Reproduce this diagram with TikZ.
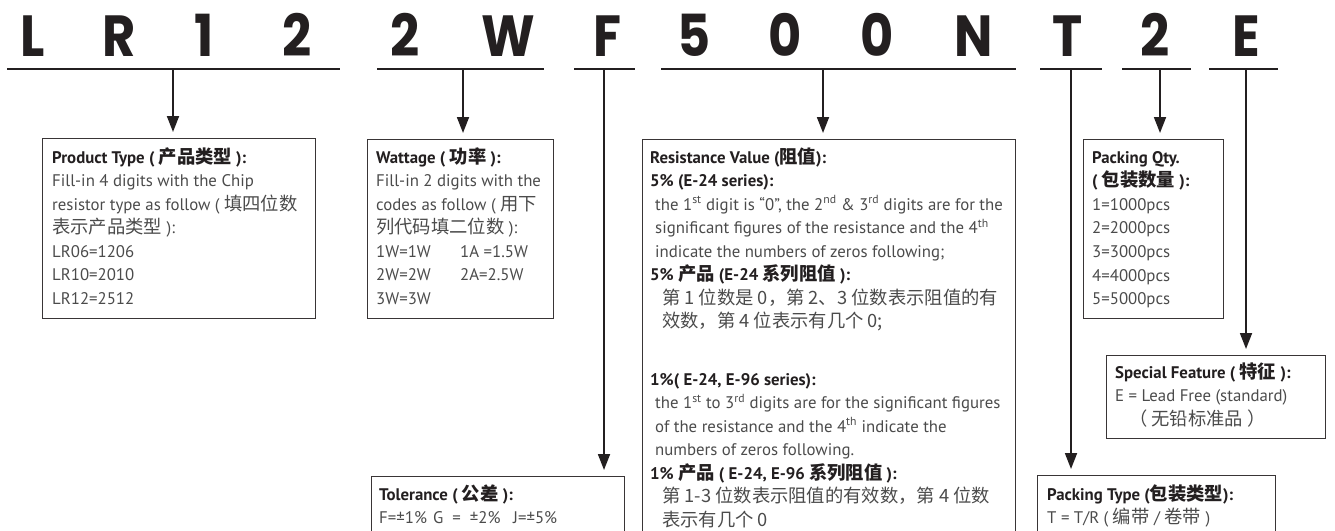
\documentclass[tikz,border=0pt]{standalone}
\usepackage{fontspec}
\setmainfont{PT Sans}
\newfontfamily\zhfont[Scale=1.09]{Noto Sans CJK SC}
\newfontfamily\bigfont[FakeStretch=0.88]{Poppins}
\usetikzlibrary{arrows.meta}
\definecolor{ink}{RGB}{35,31,32}
\definecolor{bodyc}{RGB}{75,75,75}
\newcommand\zh[1]{{\zhfont #1}}
\newcommand\hd[1]{{\bfseries\color{ink}#1}}
\newcommand\sups[1]{\textsuperscript{#1}}
\newcommand\boxlines[2]{\vtop{\baselineskip=#1\lineskiplimit=-100pt\lineskip=0pt\tabskip=0pt\halign{##\hfil\cr #2\crcr}}}
\tikzset{
  letter/.style={font=\bigfont\bfseries\fontsize{58}{58}\selectfont, text=ink, anchor=base, inner sep=0pt},
  uline/.style={draw=ink, line width=1.8pt},
  arr/.style={draw=ink, line width=1.8pt, -{Triangle[length=16pt,width=12pt]}, shorten >=6pt},
  infobox/.style={draw=ink!90, line width=1.2pt, anchor=north west, inner sep=0pt},
  txt/.style={font=\fontsize{16.8}{23.5}\selectfont, text=bodyc, anchor=base west, inner sep=0pt}
}
\begin{document}
\begin{tikzpicture}[x=1pt,y=-1pt]
\useasboundingbox (0,0) rectangle (1335,530);
\clip (0,0) rectangle (1335,530);
% big code letters
\node[letter] (l1) at (32.5,56) {L};
\node[letter] (l2) at (119,56) {R};
\node[letter] (l3) at (204,56) {1};
\node[letter] (l4) at (297,56) {2};
\node[letter] (l5) at (405,56) {2};
\node[letter] (l6) at (508,56) {W};
\node[letter] (l7) at (607,56) {F};
\node[letter] (l8) at (694,56) {5};
\node[letter] (l9) at (785,56) {0};
\node[letter] (l10) at (877,56) {0};
\node[letter] (l11) at (974,56) {N};
\node[letter] (l12) at (1068,56) {T};
\node[letter] (l13) at (1155,56) {2};
\node[letter] (l14) at (1246,56) {E};
% underline segments
\coordinate (u1a) at (7,69);    \coordinate (u1b) at (340,69);
\coordinate (u2a) at (377,69);  \coordinate (u2b) at (544,69);
\coordinate (u3a) at (574,69);  \coordinate (u3b) at (635,69);
\coordinate (u4a) at (661,69);  \coordinate (u4b) at (1016,69);
\coordinate (u5a) at (1040,69); \coordinate (u5b) at (1102,69);
\coordinate (u6a) at (1122,69); \coordinate (u6b) at (1191,69);
\coordinate (u7a) at (1209,69); \coordinate (u7b) at (1278,69);
\foreach \i in {1,...,7} {\draw[uline] (u\i a) -- (u\i b);}
% arrow start points
\coordinate (a1) at (173,69);
\coordinate (a2) at (463,69);
\coordinate (a3) at (604,69);
\coordinate (a4) at (823,69);
\coordinate (a5) at (1071,69);
\coordinate (a6) at (1160,69);
\coordinate (a7) at (1246,69);
% boxes
\node[infobox, minimum width=273pt, minimum height=180pt] (pbox) at (42,138) {};
\node[infobox, minimum width=186pt, minimum height=179pt] (wbox) at (367,139) {};
\node[infobox, minimum width=373pt, minimum height=430pt] (rbox) at (642,139) {};
\node[infobox, minimum width=140pt, minimum height=179pt] (qbox) at (1083,139) {};
\node[infobox, minimum width=219pt, minimum height=83pt] (sbox) at (1106,355) {};
\node[infobox, minimum width=238pt, minimum height=100pt] (ybox) at (1037,475) {};
\node[infobox, minimum width=253pt, minimum height=100pt] (tbox) at (371,476) {};
% arrows
\draw[arr] (a1) -- (a1 |- pbox.north);
\draw[arr] (a2) -- (a2 |- wbox.north);
\draw[arr] (a3) -- (a3 |- tbox.north);
\draw[arr] (a4) -- (a4 |- rbox.north);
\draw[arr] (a5) -- (a5 |- ybox.north);
\draw[arr] (a6) -- (a6 |- qbox.north);
\draw[arr] (a7) -- (a7 |- sbox.north);
% texts
\node[txt] (ptext) at (52,163) {\boxlines{23.5pt}{%
\hd{Product Type ( \zh{产品类型} ):}\cr
Fill-in 4 digits with the Chip\cr
resistor type as follow ( \zh{填四位数}\cr
\zh{表示产品类型} ):\cr
LR06=1206\cr
LR10=2010\cr
LR12=2512}};
\node[txt] (wtext) at (376,163) {\boxlines{23.5pt}{%
\hd{Wattage ( \zh{功率} ):}\cr
Fill-in 2 digits with the\cr
codes as follow ( \zh{用下}\cr
\zh{列代码填二位数} ):\cr
\makebox[84pt][l]{1W=1W}1A =1.5W\cr
\makebox[84pt][l]{2W=2W}2A=2.5W\cr
3W=3W}};
\node[txt] (rtext) at (650,163) {\boxlines{23.5pt}{%
\hd{Resistance Value (\zh{阻值}):}\cr
\hd{5\% (E-24 series):}\cr
\hspace*{5pt}the 1\sups{st} digit is “0”, the 2\sups{nd} \& 3\sups{rd} digits are for the\cr
\hspace*{5pt}significant figures of the resistance and the 4\sups{th}\cr
\hspace*{5pt}indicate the numbers of zeros following;\cr
\hd{5\% \zh{产品} (E-24 \zh{系列阻值} ):}\cr
\hspace*{12pt}\zh{第 1 位数是 0，第 2、3 位数表示阻值的有}\cr
\hspace*{12pt}\zh{效数，第 4 位表示有几个 0;}\cr
\noalign{\vskip 34pt}
\hd{1\%( E-24, E-96 series):}\cr
\hspace*{5pt}the 1\sups{st} to 3\sups{rd} digits are for the significant figures\cr
\hspace*{5pt}of the resistance and the 4\sups{th} indicate the\cr
\hspace*{5pt}numbers of zeros following.\cr
\hd{1\% \zh{产品} ( E-24, E-96 \zh{系列阻值} ):}\cr
\hspace*{12pt}\zh{第 1-3 位数表示阻值的有效数，第 4 位数}\cr
\hspace*{12pt}\zh{表示有几个 0}}};
\node[txt] (qtext) at (1092,163) {\boxlines{23.6pt}{%
\hd{Packing Qty.}\cr
\hd{( \zh{包装数量} ):}\cr
1=1000pcs\cr
2=2000pcs\cr
3=3000pcs\cr
4=4000pcs\cr
5=5000pcs}};
\node[txt] (stext) at (1115,378) {\boxlines{23.5pt}{%
\hd{Special Feature ( \zh{特征} ):}\cr
E = Lead Free (standard)\cr
\hspace*{14pt}\zh{（ 无铅标准品 ）}}};
\node[txt] (ytext) at (1047,500) {\boxlines{23.5pt}{%
\hd{Packing Type (\zh{包装类型}):}\cr
T = T/R ( \zh{编带} / \zh{卷带} )}};
\node[txt] (ttext) at (379,500) {\boxlines{23.5pt}{%
\hd{Tolerance ( \zh{公差} ):}\cr
\makebox[54pt][l]{F=±1\%}\makebox[80pt][l]{G \ = \ ±2\%}J=±5\%}};
\end{tikzpicture}
\end{document}
